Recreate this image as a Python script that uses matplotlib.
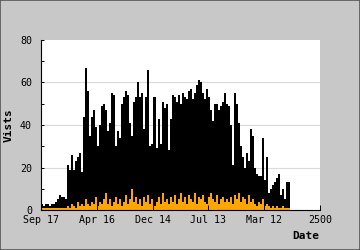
import numpy as np
import matplotlib.pyplot as plt
from matplotlib.patches import Rectangle

# visits per ~18 day bucket, counted in days from Sep 17 going back
visits = [3, 2, 3, 3, 2, 3, 3, 4, 5, 7, 6, 6, 5, 21, 19, 26, 19, 23, 25, 27,
          18, 44, 67, 56, 35, 44, 47, 39, 30, 40, 49, 50,
          47, 37, 41, 55, 54, 30, 37, 34, 50, 53, 56, 54, 41, 35, 51, 53, 60, 53,
          55, 38, 53, 66, 30, 31, 53, 29, 43, 31, 51, 48, 50,
          28, 43, 54, 53, 51, 54, 50, 55, 53, 52, 56, 57, 52, 55, 59, 61, 60, 55,
          52, 57, 53, 47, 42, 50, 50, 47, 49, 51, 55, 50,
          49, 40, 21, 55, 50, 41, 30, 25, 20, 27, 23, 38, 35, 20, 17, 16, 16, 34,
          14, 25, 8, 10, 12, 13, 15, 17, 7, 10, 5, 13, 13]
visitors = [1, 1, 1, 1, 1, 1, 1, 1, 1, 1, 1, 1,
            1, 2, 1, 3, 2, 1, 4, 2, 3, 2, 5, 3, 2, 4, 3, 6, 2, 4, 3, 5,
            8, 3, 5, 2, 4, 6, 3, 5, 2, 4, 7, 3, 5, 10, 4, 6, 3, 5, 2, 6,
            4, 7, 3, 5, 2, 4, 6, 3, 8, 4, 5,
            3, 6, 4, 7, 3, 5, 8, 4, 6, 3, 7, 5, 4, 8, 3, 6, 5, 7, 4, 3,
            6, 8, 5, 4, 7, 3, 5, 6, 4, 5,
            4, 6, 3, 7, 5, 8, 4, 6, 5, 3, 7, 4, 5, 3, 2, 4, 3, 5, 2, 3,
            2, 1, 2, 1, 2, 1, 1, 2, 1, 1, 1]
bucket_days = 18
tick_days = [0, 500, 1000, 1500, 2000, 2500]
tick_labels = ['Sep 17', 'Apr 16', 'Dec 14', 'Jul 13', 'Mar 12', '2500']

days = np.arange(len(visits) + 1) * bucket_days
v = np.append(visits, visits[-1])
o = np.append(visitors, visitors[-1])

plt.rcParams['font.family'] = 'DejaVu Sans Mono'
fig = plt.figure(figsize=(3.6, 2.5), dpi=100, facecolor='#c8c8c8')
ax = fig.add_axes([41/360, 40/250, 279/360, 170/250])

for g in [20, 40, 60]:
    ax.axhline(g, color='#dadada', lw=0.8, zorder=0.5)

ax.fill_between(days, v, step='post', color='black', lw=0, antialiased=False)
ax.fill_between(days, o, step='post', color='#ffa500', lw=0, antialiased=False)

ax.set_xlim(0, 2500)
ax.set_ylim(0, 80)
ax.set_xticks(tick_days)
ax.set_xticklabels(tick_labels)
ax.set_yticks([0, 20, 40, 60, 80])
ax.set_yticks([10, 30, 50, 70], minor=True)

for s in ['top', 'right']:
    ax.spines[s].set_visible(False)
for s in ['left', 'bottom']:
    ax.spines[s].set_linewidth(0.8)

ax.tick_params(axis='y', which='both', direction='in', length=2.2, width=0.7,
               pad=6.5, labelsize=7.2)
ax.tick_params(axis='x', direction='in', length=3.6, width=0.7, pad=3.5,
               labelsize=7.2)

fig.text(9/360, 1 - 125/250, 'Vists', rotation=90, fontweight='bold',
         fontsize=8, ha='center', va='center')
fig.text(319/360, 1 - 236/250, 'Date', fontweight='bold', fontsize=8,
         ha='right', va='center')

fig.patches.append(Rectangle((0, 0), 1, 1, transform=fig.transFigure,
                             fill=False, ec='#555555', lw=1.2))

fig.savefig('out.png', dpi=100, facecolor=fig.get_facecolor())
